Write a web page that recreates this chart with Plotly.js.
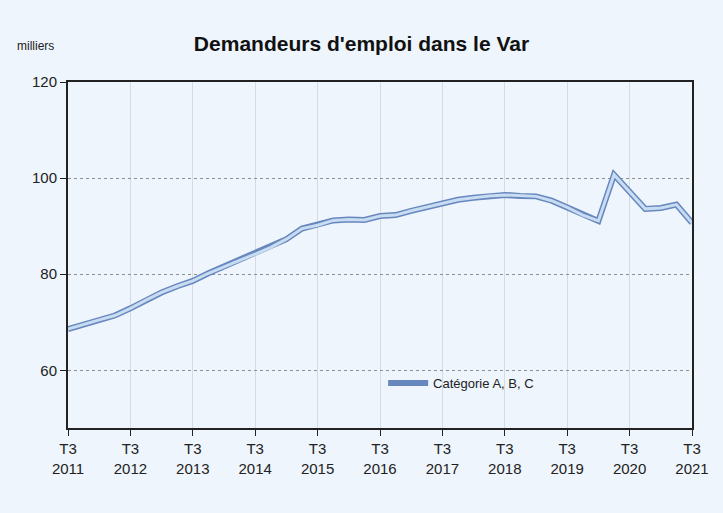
<!DOCTYPE html>
<html>
<head>
<meta charset="utf-8">
<script src="https://cdn.plot.ly/plotly-3.0.1.min.js"></script>
<style>html,body{margin:0;padding:0;background:#eef5fc;}</style>
</head>
<body>
<div id="chart" style="width:723px;height:513px;"></div>
<script>
// Quarterly categories, T3 2011 .. T3 2021
const quarters = [
  "T3 2011","T4 2011","T1 2012","T2 2012","T3 2012","T4 2012","T1 2013","T2 2013",
  "T3 2013","T4 2013","T1 2014","T2 2014","T3 2014","T4 2014","T1 2015","T2 2015",
  "T3 2015","T4 2015","T1 2016","T2 2016","T3 2016","T4 2016","T1 2017","T2 2017",
  "T3 2017","T4 2017","T1 2018","T2 2018","T3 2018","T4 2018","T1 2019","T2 2019",
  "T3 2019","T4 2019","T1 2020","T2 2020","T3 2020","T4 2020","T1 2021","T2 2021",
  "T3 2021"
];
// Demandeurs d'emploi, catégorie A, B, C (milliers)
const categorieABC = [
  68.6, 69.6, 70.5, 71.4, 72.9, 74.6, 76.2, 77.5,
  78.6, 80.2, 81.6, 82.9, 84.2, 85.6, 87.3, 89.5,
  90.2, 91.2, 91.4, 91.3, 92.1, 92.3, 93.2, 94.0,
  94.8, 95.5, 95.9, 96.3, 96.5, 96.3, 96.2, 95.3,
  93.9, 92.3, 91.1, 100.7, 97.2, 93.6, 93.8, 94.5,
  90.7
];
const tickQuarters = ["T3 2011","T3 2012","T3 2013","T3 2014","T3 2015","T3 2016","T3 2017","T3 2018","T3 2019","T3 2020","T3 2021"];
const tickLabels = tickQuarters.map(q => q.replace(" ", "<br>"));
const seriesName = "Catégorie A, B, C";

const font = "'Liberation Sans', Arial, sans-serif";

const traces = [
  {x: quarters, y: categorieABC, type: "scatter", mode: "lines", name: seriesName,
   line: {color: "#6787bf", width: 6}, showlegend: true},
  {x: quarters, y: categorieABC, type: "scatter", mode: "lines", name: seriesName,
   line: {color: "#c8dcf2", width: 3}, showlegend: false}
];

const layout = {
  width: 723, height: 513,
  paper_bgcolor: "#eef5fc", plot_bgcolor: "#eef5fc",
  margin: {l: 68, r: 31, t: 82, b: 85},
  title: {text: "<b>Demandeurs d'emploi dans le Var</b>", font: {family: font, size: 21, color: "#111"},
          x: 0.5, xanchor: "center", y: 0.915, yanchor: "middle"},
  font: {family: font, color: "#222"},
  xaxis: {
    type: "category", range: [0, quarters.length - 1],
    tickmode: "array", tickvals: tickQuarters, ticktext: tickLabels,
    tickfont: {size: 15, color: "#222"}, ticks: "outside", ticklen: 6, tickcolor: "#222",
    showgrid: true, gridcolor: "#d6dbe2", gridwidth: 1,
    showline: true, linecolor: "#222", linewidth: 2, mirror: true, zeroline: false
  },
  yaxis: {
    range: [48, 120], tickmode: "linear", tick0: 0, dtick: 20,
    tickfont: {size: 15, color: "#222"}, ticks: "outside", ticklen: 6, tickcolor: "#222",
    showgrid: true, gridcolor: "#8f8f8f", griddash: "dot", gridwidth: 1,
    showline: true, linecolor: "#222", linewidth: 2, mirror: true, zeroline: false
  },
  legend: {x: 0.505, y: 0.13, xanchor: "left", yanchor: "middle", bgcolor: "rgba(0,0,0,0)",
           font: {size: 13, color: "#222", family: font}, itemwidth: 40},
  annotations: [
    {text: "milliers", xref: "paper", yref: "paper", x: -0.085, y: 1.105, xanchor: "left", yanchor: "middle",
     showarrow: false, font: {size: 12, color: "#222", family: font}}
  ]
};

Plotly.newPlot("chart", traces, layout, {displayModeBar: false, staticPlot: true});
</script>
</body>
</html>
